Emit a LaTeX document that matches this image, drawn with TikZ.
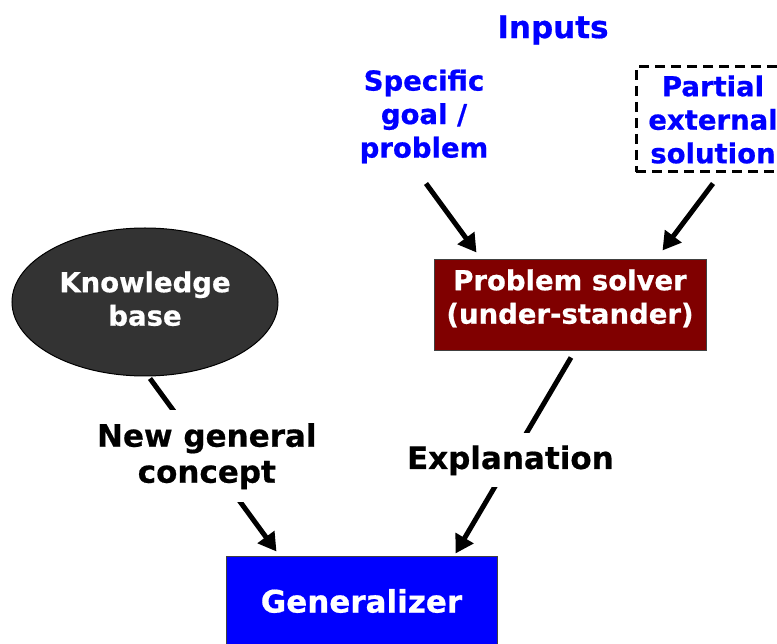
\documentclass[tikz,border=0pt]{standalone}
\usepackage{fontspec}
\setmainfont{DejaVu Sans}[BoldFeatures={FakeBold=0.6}]
\usetikzlibrary{arrows.meta,shapes.geometric}
\definecolor{psred}{HTML}{800000}
\definecolor{kbgray}{HTML}{333333}
\definecolor{inblue}{HTML}{0000FF}
\begin{document}
\begin{tikzpicture}[x=1pt,y=-1pt,
  big/.style={font=\bfseries\fontsize{31}{36}\selectfont, align=center, inner sep=0pt},
  small/.style={font=\bfseries\fontsize{27.5}{33.5}\selectfont, align=center, inner sep=0pt},
  arr/.style={line width=5pt, -{Triangle[length=18pt,width=20pt]}},
  lbl/.style={big, fill=white},
]
\useasboundingbox (0,0) rectangle (777,644);
\clip (0,0) rectangle (777,644);

\node[big, text=inblue] (inputs) at (553,30) {Inputs};
\node[small, text=inblue] (goal) at (424,116.5) {Specific\\goal /\\problem};
\node[small, text=inblue, draw=black, dash pattern=on 10pt off 6pt, line width=3pt,
      minimum width=154pt, minimum height=105pt] (partial) at (713,119.5) {Partial\\external\\solution};
\node[small, text=white, fill=psred, draw=black!75, line width=1pt, text depth=18pt,
      minimum width=272pt, minimum height=91pt] (ps) at (570,305.5) {Problem solver\\(under-stander)};
\node[ellipse, small, text=white, fill=kbgray, draw=black, line width=1pt, text depth=7pt,
      minimum width=266pt, minimum height=148pt] (kb) at (145,302) {Knowledge\\base};
\node[big, text=white, fill=inblue, draw=black!75, line width=1pt,
      minimum width=271pt, minimum height=90pt] (gen) at (361.5,601) {Generalizer};

\draw[arr] ([xshift=2pt,yshift=-20pt]goal.south) -- ([xshift=43pt,yshift=7pt]ps.north west);
\draw[arr] ([yshift=-10pt]partial.south) -- ([xshift=-44pt,yshift=9pt]ps.north east);
\draw[arr] ([xshift=5pt,yshift=-2pt]kb.south) -- node[lbl, pos=0.449, inner sep=13pt] (ngc) {New general\\concept} ([xshift=51pt,yshift=4pt]gen.north west);
\draw[arr] ([xshift=1pt,yshift=-6pt]ps.south) -- node[lbl, pos=0.525, inner sep=12pt] (expl) {Explanation} ([xshift=-42pt,yshift=2pt]gen.north east);
\end{tikzpicture}
\end{document}
